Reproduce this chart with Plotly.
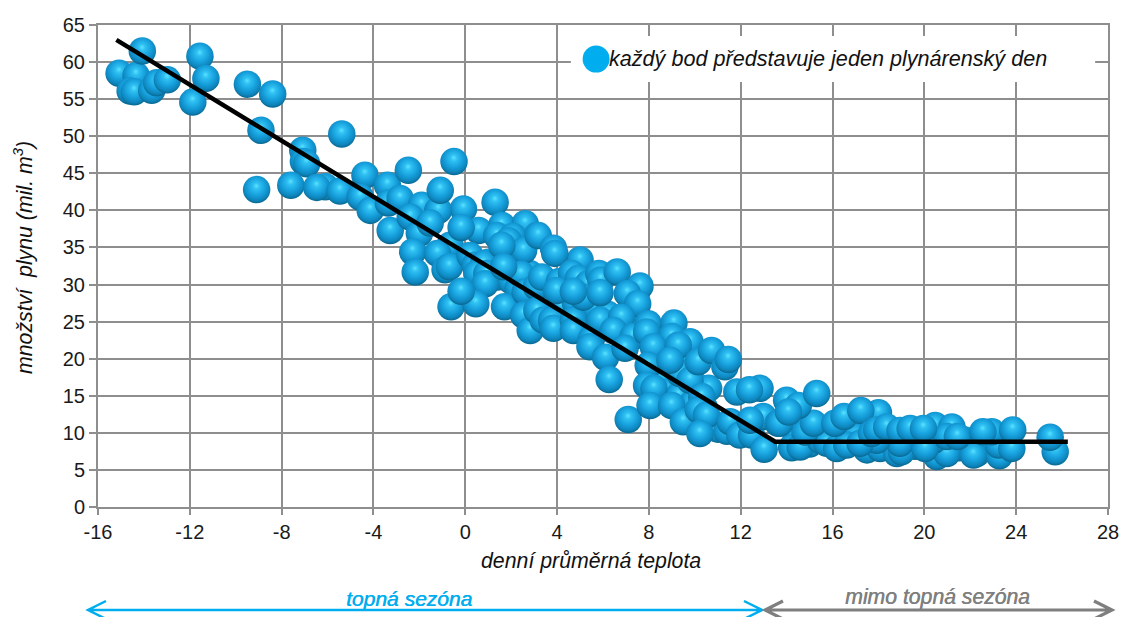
import plotly.graph_objects as go

# denní průměrná teplota / množství plynu, in drawing order
temp_under = [14.4,15.0,15.5,16.0,16.5,17.0,18.3,18.6,19.2,19.6,19.7,20.2,20.7,21.0,21.5,21.8,22.4,22.7,23.1,23.5,
              8.6,9.1,9.6,10.0,10.6,8.4,8.8,9.3,9.9,10.4,11.0,11.4,11.9,3.6,4.2,4.8,5.2,5.6,6.2,6.6,7.0,7.4,1.0,1.4,2.0,2.3,2.8]
gas_under = [9.0,8.5,10.0,9.0,10.0,9.5,8.5,9.5,8.6,8.2,9.5,8.5,7.8,8.3,8.0,9.0,8.0,8.6,9.5,9.0,
             17.5,19.0,20.5,16.5,16.0,14.5,15.5,15.0,14.0,13.5,10.5,10.2,11.0,27.5,27.0,27.5,26.5,27.0,26.0,24.5,25.0,24.0,33.0,31.0,30.5,29.5,31.5]

temp_cold = [-15.08,-14.34,-14.6,-14.42,-14.07,-13.66,-13.44,-12.98,-11.56,-11.3,-11.87,-9.49,-8.39,-8.9,-5.38,
             -7.08,-7.05,-6.91,-9.09,-7.6,-6.1,-6.47,-5.46,-4.37,-4.58,-4.14,-3.39,-3.35,-2.84,-3.27,-2.48,-0.49]
gas_cold = [58.5,58.2,56.1,56.0,61.5,56.2,57.2,57.6,60.8,57.8,54.6,57.0,55.7,50.8,50.3,
            48.1,46.6,46.3,42.8,43.4,43.2,43.1,42.6,44.75,41.8,40.0,43.4,41.0,41.6,37.3,45.4,46.6]

temp_mid = [-1.9,-1.2,-0.08,-1.17,-2.4,-1.09,1.3,-2,-1.53,0.58,1.59,2.61,3.12,1.37,2.07,1.88,-0.66,2.54,
            -2.29,-2.18,-1.21,-0.88,-0.69,0.21,0.43,0.8,0.5,0.94,-0.18,0.87,-0.62,0.46,1.71,
            -0.18,1.59,3.18,2.43,1.67,2.61,2.54,3.1,3.33,2.83,3.12,3.4,3.76,3.84,4.71,4.71,5.0,
            3.84,3.9,5.5,5.43,6.11,6.27,4.1,4.63,4.92,3.98,5.36,5.82,5.91,6.62,5.14,4.71,5.87,
            7.61,7.06,7.51,5.87,6.81,6.45,7.32,6.96,7.97,9.09,7.9,9.0,7.1]
gas_mid = [40.7,40.0,40.2,40.0,39.1,42.7,41.1,36.9,38.3,37.3,38.0,38.2,36.6,36.6,36.5,35.9,35.3,34.6,
           34.4,31.7,34.2,32.0,32.4,33.9,32.6,32.8,31.5,31.5,37.7,30.1,27.0,27.4,27.0,
           29.1,35.3,36.6,31.4,32.4,29.0,25.9,29.7,31.0,23.8,26.5,25.2,25.2,24.1,25.2,23.8,33.3,
           34.9,34.2,22.7,21.6,20.2,17.2,30.4,31.5,30.8,29.2,30.1,31.5,30.6,31.7,28.3,29.1,28.9,
           29.8,28.8,27.4,25.2,25.6,23.8,23.0,21.4,24.7,24.8,23.6,23.0,11.8]

temp_knee = [8.19,9.35,9.79,9.28,9.79,7.97,8.92,10.15,10.73,11.31,11.46,7.9,8.22,8.05,8.99,9.5,10.3,10.15,10.51,
             10.22,11.83,12.84,11.54,11.96,12.47,12.98,12.41,13.02,12.38,13.63]
gas_knee = [21.6,18.0,22.3,21.8,17.1,19.1,19.8,19.6,21.1,18.9,19.9,16.4,16.0,13.7,13.7,11.5,14.9,13.1,12.4,
            9.9,15.5,16.0,11.5,9.7,9.7,12.2,11.7,7.8,15.8,11.3]

temp_flat = [14.22,14.59,15.46,15.75,16.18,16.62,17.5,18.07,18.8,19.0,18.94,17.93,17.2,20.54,20.98,20.4,22.28,22.14,
             23.27,23.23,23.81,25.7,14.8,15.17,13.69,14.0,14.51,14.08,15.31,16.1,16.5,18.0,17.23,17.7,17.93,18.36,
             18.94,19.38,20.47,20.03,21.2,20.98,21.44,22.94,22.55,23.85,25.48,19.96]
gas_flat = [8.0,8.1,9.0,8.6,7.9,8.35,7.7,7.9,7.2,7.45,8.6,9.0,8.6,6.8,7.2,9.0,7.2,7.0,
            6.9,8.35,7.9,7.45,10.1,11.3,11.3,14.4,13.7,12.8,15.3,11.3,12.2,12.7,13.0,9.9,10.4,10.8,
            10.3,10.6,11.0,7.9,10.8,9.5,9.5,10.15,10.15,10.4,9.4,10.6]

# řídicí křivka
line_temp = [-15.2, 13.5, 26.25]
line_gas = [63.0, 8.8, 8.8]

legend_temp = [5.7]
legend_gas = [60.4]

x_ticks = [-16,-12,-8,-4,0,4,8,12,16,20,24,28]
x_labels = ["-16","-12","-8","-4","0","4","8","12","16","20","24","28"]
y_ticks = list(range(0, 70, 5))

temp = temp_under + temp_cold + temp_mid + temp_knee + temp_flat
gas = gas_under + gas_cold + gas_mid + gas_knee + gas_flat

FONT = "Liberation Sans, Arial, sans-serif"
GRID = "#8e8e8e"
BLUE = "#00AEEF"
GRAY = "#7f7f7f"
L, R, T, B = 98, 1108, 25, 507
W, H = 1122, 617


def px(x):
    return (x - L) / (R - L)


def py(y):
    return (B - y) / (B - T)


def arrow(x0, x1, y, color, width):
    s = 18
    h = 9
    path = (f"M {px(x0)},{py(y)} L {px(x1)},{py(y)} "
            f"M {px(x0+s)},{py(y-h)} L {px(x0)},{py(y)} L {px(x0+s)},{py(y+h)} "
            f"M {px(x1-s)},{py(y-h)} L {px(x1)},{py(y)} L {px(x1-s)},{py(y+h)}")
    return dict(type="path", xref="paper", yref="paper", path=path,
                line=dict(color=color, width=width), layer="above")


def note(text, x, y, size=21, color="#111111", angle=0, shadow=None):
    f = dict(family=FONT, size=size, color=color)
    if shadow:
        f["shadow"] = shadow
    return dict(text=text, xref="paper", yref="paper", x=px(x), y=py(y), xanchor="center", yanchor="middle",
                showarrow=False, textangle=angle, font=f)


fig = go.Figure()
fig.add_trace(go.Scatter(x=temp, y=gas, mode="markers", hoverinfo="x+y", showlegend=False,
                         marker=dict(size=27.5, color="#0b6f9f", line=dict(width=0),
                                     gradient=dict(type="radial", color="#3cd0f8"))))
fig.add_trace(go.Scatter(x=line_temp, y=line_gas, mode="lines", showlegend=False,
                         line=dict(color="#000000", width=4.5)))
fig.add_trace(go.Scatter(x=legend_temp, y=legend_gas, mode="markers", showlegend=False,
                         marker=dict(size=27, color=BLUE, line=dict(width=0))))

fig.update_layout(
    width=W, height=H, autosize=False,
    paper_bgcolor="white", plot_bgcolor="white",
    margin=dict(l=L, r=W - R, t=T, b=H - B, pad=0, autoexpand=False),
    font=dict(family=FONT, size=20, color="#1a1a1a"),
    shapes=[
        dict(type="rect", xref="x", yref="y", x0=4.6, x1=27.44, y0=57.3, y1=63.5,
             fillcolor="white", line=dict(width=0), layer="between"),
        arrow(88, 762, 610, BLUE, 2.5),
        arrow(765, 1112, 610, GRAY, 3.2),
    ],
    annotations=[
        note("<i>každý bod představuje jeden plynárenský den</i>", 827.5, 59, 21.6),
        note("<i>denní průměrná teplota</i>", 591, 561, 21.3),
        note("<i>množství  plynu (mil. m<sup>3</sup>)</i>", 23, 258, 21.3, angle=-90),
        note("<i>topná sezóna</i>", 409, 598, 21, BLUE, shadow=f"0.5px 0 0 {BLUE}"),
        note("<i>mimo topná sezóna</i>", 937.5, 597, 21.2, GRAY, shadow=f"0.5px 0 0 {GRAY}"),
    ],
    xaxis=dict(range=[-16, 28], tickvals=x_ticks, ticktext=x_labels, showgrid=True, gridcolor=GRID, gridwidth=2,
               zeroline=False, showline=True, linecolor=GRID, linewidth=2, mirror=True,
               ticks="outside", ticklen=6, tickcolor=GRID, tickwidth=2, tickfont=dict(size=20)),
    yaxis=dict(range=[0, 65], tickvals=y_ticks, showgrid=True, gridcolor=GRID, gridwidth=2,
               zeroline=False, showline=True, linecolor=GRID, linewidth=2, mirror=True,
               ticks="outside", ticklen=7, tickcolor=GRID, tickwidth=2, tickfont=dict(size=20)),
)

post = """
var gd = document.getElementById('{plot_id}');
document.body.style.margin = '0';
function shade() {
  document.querySelectorAll('radialGradient').forEach(function (g) {
    g.setAttribute('cx', '0.5'); g.setAttribute('cy', '0.42'); g.setAttribute('r', '0.6');
    g.setAttribute('fx', '0.49'); g.setAttribute('fy', '0.36');
    while (g.firstChild) g.removeChild(g.firstChild);
    [[0, '#5be2ff'], [0.2, '#2fc0f2'], [0.55, '#169fdc'], [0.8, '#0e86bd'], [0.95, '#0a6a94'], [1, '#0d7aa6']].forEach(function (s) {
      var st = document.createElementNS('http://www.w3.org/2000/svg', 'stop');
      st.setAttribute('offset', s[0]); st.setAttribute('stop-color', s[1]);
      g.appendChild(st);
    });
  });
}
shade();
if (gd.on) gd.on('plotly_afterplot', shade);
setTimeout(shade, 50);
"""
fig.write_html("out.html", config=dict(displayModeBar=False), post_script=post)
